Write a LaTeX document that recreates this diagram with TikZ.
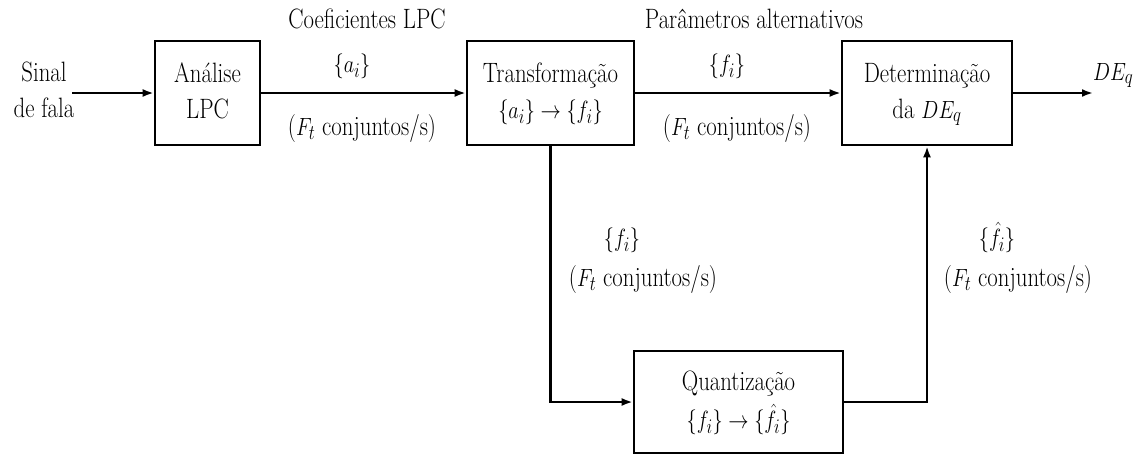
\documentclass[tikz,border=0pt]{standalone}
\usepackage{graphicx}
\usetikzlibrary{arrows.meta}
\newcommand{\Tb}[1]{\scalebox{0.815}[1]{\begin{tabular}{@{}c@{}}#1\end{tabular}}}
\newcommand{\Ts}[1]{\scalebox{0.815}[1]{#1}}
\begin{document}
\begin{tikzpicture}[x=1pt,y=-1pt,
  font=\fontsize{28}{36}\selectfont,
  box/.style={draw, line width=2.6pt, inner sep=0pt},
  lbl/.style={inner sep=0pt},
  conn/.style={line width=2.6pt, -{Latex[length=11pt,width=8pt]}},
  wire/.style={line width=2.6pt}]
\useasboundingbox (0,0) rectangle (1143,455);
% blocks
\node[box, minimum width=105pt, minimum height=104pt] (ana) at (207.5,93) {\Tb{Análise\\LPC}};
\node[box, minimum width=167pt, minimum height=104pt] (tra) at (550.5,93) {\Tb{Transformação\\$\{a_i\}\rightarrow\{f_i\}$}};
\node[box, minimum width=170pt, minimum height=104pt] (det) at (927,93) {\Tb{Determinação\\da $DE_q$}};
\node[box, minimum width=209pt, minimum height=102pt] (qua) at (738.5,402) {\Tb{Quantização\\[2pt]$\{f_i\}\rightarrow\{\hat{f}_i\}$}};
% input / output
\node[lbl] (sinal) at (44,92) {\Tb{Sinal\\de fala}};
\coordinate (in) at (72,93);
\coordinate (out) at (1093,93);
\node[lbl, anchor=base west] (deq) at (1093,80) {\Ts{$DE_q$}};
% connectors
\draw[conn] (in) -- (ana.west);
\draw[conn] (ana.east) -- (tra.west);
\draw[conn] (tra.east) -- (det.west);
\draw[conn] (det.east) -- (out);
\draw[conn] (tra.south) |- (qua.west);
\draw[conn] (qua.east) -| (det.south);
% labels
\node[lbl, anchor=base] (c1) at (367,28) {\Ts{Coeficientes LPC}};
\node[lbl, anchor=base] (c2) at (352,72) {\Ts{$\{a_i\}$}};
\node[lbl, anchor=base] (c3) at (362,135) {\Ts{($F_t$ conjuntos/s)}};
\node[lbl, anchor=base] (p1) at (754,28) {\Ts{Parâmetros alternativos}};
\node[lbl, anchor=base] (p2) at (727,72) {\Ts{$\{f_i\}$}};
\node[lbl, anchor=base] (p3) at (737,135) {\Ts{($F_t$ conjuntos/s)}};
\node[lbl, anchor=base] (v1) at (622,246) {\Ts{$\{f_i\}$}};
\node[lbl, anchor=base] (v2) at (643,286) {\Ts{($F_t$ conjuntos/s)}};
\node[lbl, anchor=base] (w1) at (997,246) {\Ts{$\{\hat{f}_i\}$}};
\node[lbl, anchor=base] (w2) at (1018,286) {\Ts{($F_t$ conjuntos/s)}};
\end{tikzpicture}
\end{document}
